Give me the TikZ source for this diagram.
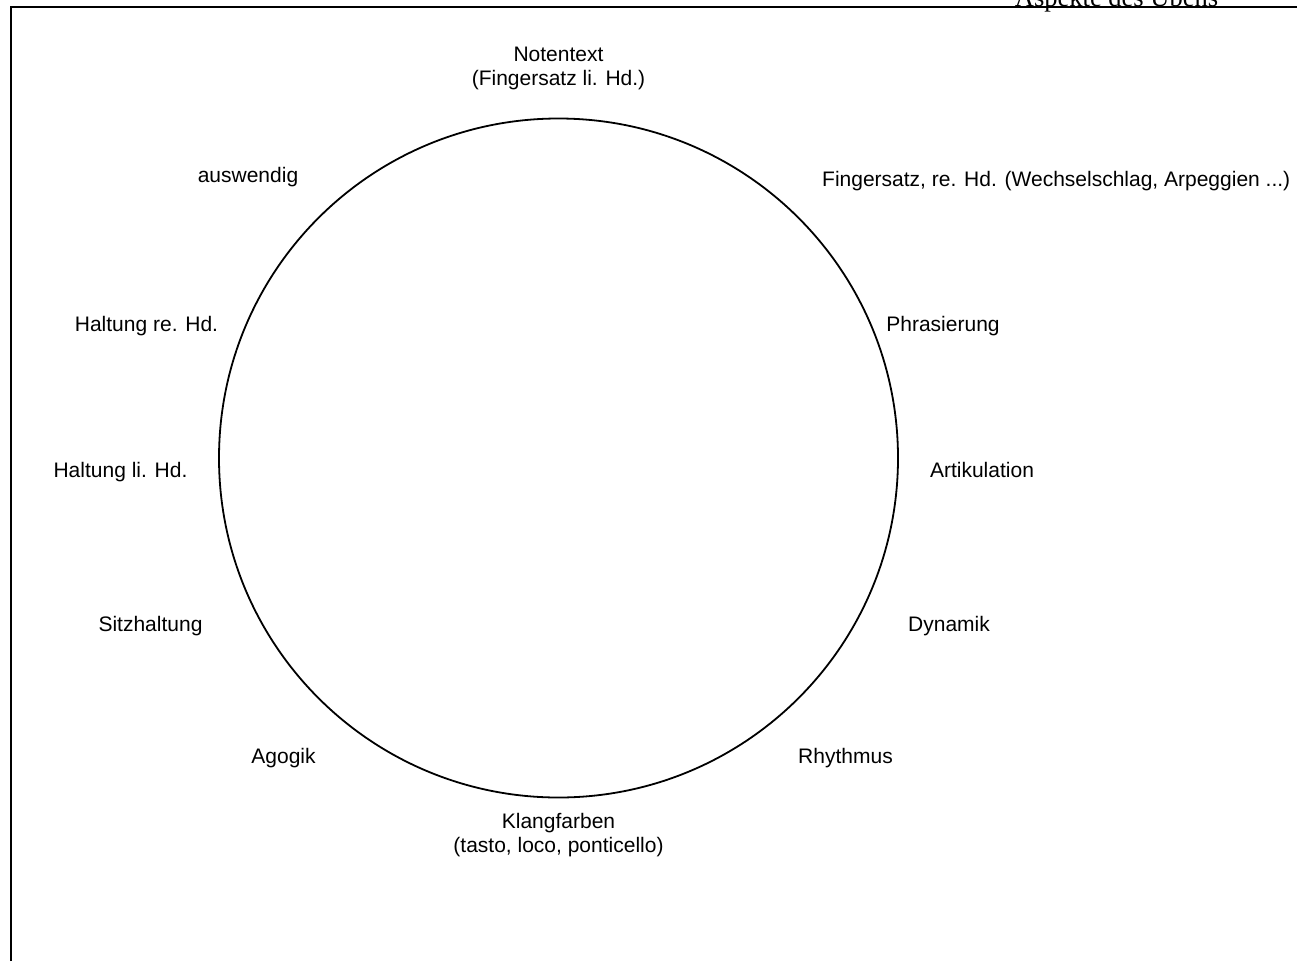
\documentclass[tikz,border=0pt]{standalone}
\usepackage{fontspec}
\setmainfont{Liberation Sans}
\newfontfamily\headfont{Liberation Serif}
\begin{document}
\begin{tikzpicture}[x=1pt,y=-1pt,
  lbl/.style={anchor=base,inner sep=0pt,align=center,font=\fontsize{21}{24}\selectfont},
  head/.style={anchor=base,inner sep=0pt,font=\headfont\fontsize{26.5}{30}\selectfont},
  frame/.style={line width=2pt},
  ring/.style={draw,circle,line width=1.8pt,minimum size=679pt,inner sep=0pt}]
\useasboundingbox (0,0) rectangle (1297,961);
\node[head] (title) at (1116.5,6) {Aspekte des Übens};
\draw[frame] (10.5,961) -- (10.5,7.3) -- (1297,7.3);
\node[ring] (c) at (558.5,458) {};
\node[lbl] (noten) at (558.5,85) {Notentext\\(Fingersatz li. Hd.)};
\node[lbl] (ausw) at (248,182) {auswendig};
\node[lbl,anchor=base west] (fsre) at (822,186) {Fingersatz, re. Hd. (Wechselschlag, Arpeggien ...)};
\node[lbl] (hre) at (146.5,331) {Haltung re. Hd.};
\node[lbl] (phr) at (943,331) {Phrasierung};
\node[lbl] (hli) at (120.5,477) {Haltung li. Hd.};
\node[lbl] (art) at (982,477) {Artikulation};
\node[lbl] (sitz) at (150.5,631) {Sitzhaltung};
\node[lbl] (dyn) at (949,631) {Dynamik};
\node[lbl] (agog) at (283.5,763) {Agogik};
\node[lbl] (rhy) at (845.5,763) {Rhythmus};
\node[lbl] (klang) at (558.5,852) {Klangfarben\\(tasto, loco, ponticello)};
\end{tikzpicture}
\end{document}
